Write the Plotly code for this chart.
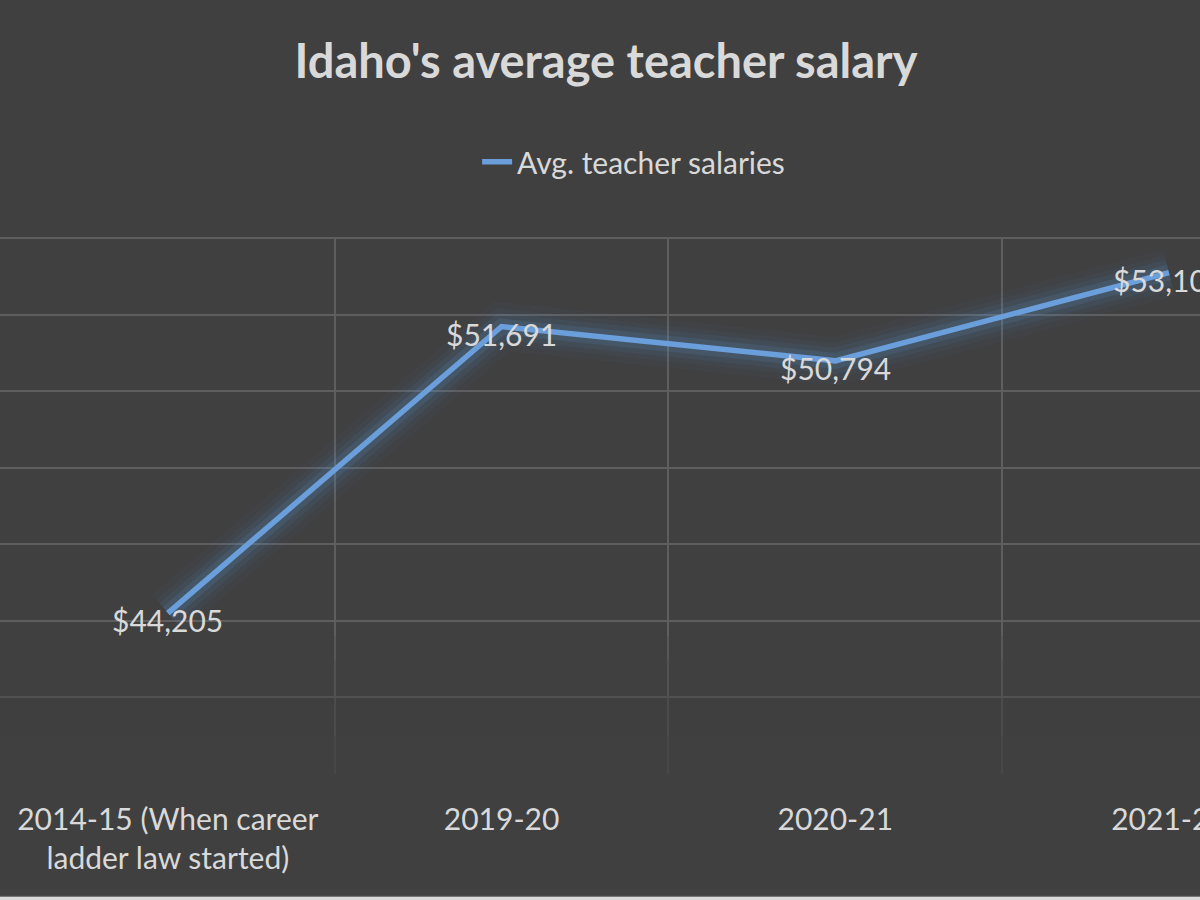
import plotly.graph_objects as go

# data
years = ["2014-15 (When career<br>ladder law started)", "2019-20", "2020-21", "2021-22"]
salaries = [44205, 51691, 50794, 53100]
labels = ["$44,205", "$51,691", "$50,794", "$53,100"]

BG = "#404040"
GRID = "#5e5e5e"
TXT = "#d9d9d9"
LINE = "#6a9fdc"
FONT = "Lato"

xs = list(range(len(years)))

fig = go.Figure()

# soft glow behind the line
for w, a in [(48, 0.035), (36, 0.05), (26, 0.08), (16, 0.13)]:
    fig.add_trace(go.Scatter(
        x=xs, y=salaries, mode="lines",
        line=dict(color=f"rgba(91,155,213,{a})", width=w),
        showlegend=False, hoverinfo="skip",
    ))

fig.add_trace(go.Scatter(
    x=xs, y=salaries, mode="lines",
    name="Avg. teacher salaries",
    line=dict(color=LINE, width=5.5),
))

# data labels, centred just under each point
for x, y, t in zip(xs, salaries, labels):
    fig.add_annotation(x=x, y=y, text=t, showarrow=False, yshift=-7,
                       font=dict(family=FONT, size=30, color=TXT))

# fade gridlines toward the bottom, like the original
for y0, y1, op in [(40000, 41000, 0.75), (41000, 42000, 0.6), (42000, 43000, 0.4), (43000, 43600, 0.2)]:
    fig.add_shape(type="rect", xref="paper", yref="y", x0=0, x1=1, y0=y0, y1=y1,
                  fillcolor=BG, opacity=op, line=dict(width=0), layer="above")

# light strip along the bottom edge
fig.add_shape(type="rect", xref="paper", yref="paper", x0=0, x1=1, y0=-0.236, y1=-0.2275,
              fillcolor="#d8d8d8", line=dict(width=0))
fig.add_shape(type="line", xref="paper", yref="paper", x0=0, x1=1, y0=-0.2275, y1=-0.2275,
              line=dict(color="#555555", width=1))

fig.update_xaxes(
    range=[-0.503, 3.093],
    tickvals=xs, ticktext=years,
    tickfont=dict(family=FONT, size=30, color=TXT),
    showgrid=False, zeroline=False, showline=False, ticks="",
    minor=dict(tickvals=[-0.5, 0.5, 1.5, 2.5, 3.5], showgrid=True, gridcolor=GRID, gridwidth=2, ticks=""),
    ticklabelstandoff=25, ticklabeloverflow="allow",
)
fig.update_yaxes(
    range=[40000, 54030], dtick=2000,
    showticklabels=False, showgrid=True, gridcolor=GRID, gridwidth=2,
    zeroline=False, showline=False, ticks="",
)

fig.update_layout(
    width=1200, height=900,
    paper_bgcolor=BG, plot_bgcolor=BG,
    margin=dict(l=0, r=0, t=237, b=126, autoexpand=False),
    title=dict(text="<b>Idaho's average teacher salary</b>", x=0.505, xanchor="center",
               y=1 - 62 / 900, yanchor="middle", yref="container",
               font=dict(family=FONT, size=47, color=TXT)),
    showlegend=True,
    legend=dict(orientation="h", x=0.528, xanchor="center", y=1.14, yanchor="middle",
                font=dict(family=FONT, size=30, color=TXT), bgcolor="rgba(0,0,0,0)"),
)

fig.write_html("out.html", config={"displayModeBar": False},
               post_script="document.body.style.margin='0';")
